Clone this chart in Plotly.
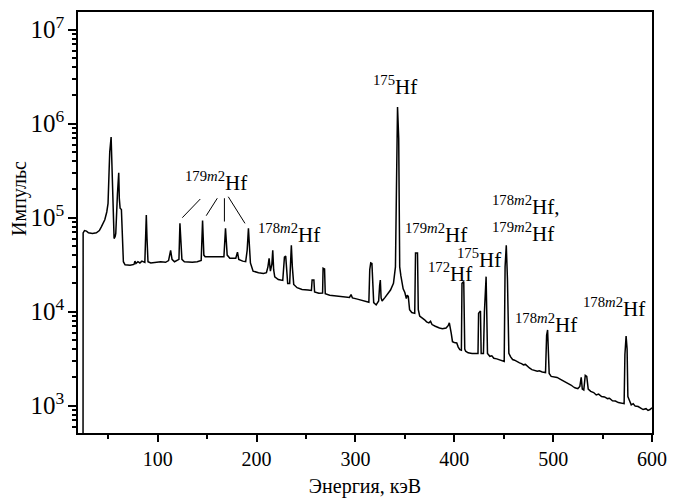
import plotly.graph_objects as go

# ---- spectrum data (energy keV, counts) ----
energy = [24.5, 24.6, 26, 28, 30, 34, 38, 41, 43, 46.5, 48.5, 49.8, 51, 51.5, 52.9, 53.5, 54.2, 55.2, 55.9, 57,
          57.6, 59.3, 60.6, 61.2, 62, 63.3, 64.3, 65.3, 67, 72, 76, 77, 78, 80, 82, 84, 87, 88.0, 88.5, 89.2,
          90.2, 93, 98, 103, 108, 111, 113.1, 114.5, 117, 121.5, 122.5, 123.5, 124.5, 127, 135, 140, 144, 145.4, 146.2, 146.7,
          148, 167, 168.6, 169.5, 170.3, 173, 179, 180.7, 182, 186, 189, 190.5, 191.8, 192.8, 193.8, 196.5, 199, 202, 207, 210,
          211.5, 212.7, 214, 215.5, 216.4, 217.3, 218.4, 222, 226.5, 227.5, 228.2, 229.5, 230.5, 231.5, 233.5, 234.5, 235.2, 236.2, 237.6, 241,
          246, 252, 255.5, 256.2, 258, 258.7, 263, 266.8, 267.3, 268.8, 269.5, 274, 280, 285, 290, 294, 295.6, 297, 302, 307,
          312, 313.6, 314.5, 315.5, 316.7, 317.5, 318.5, 321, 323.5, 324.5, 325.2, 326, 327, 330, 333, 335.5, 338.5, 340.5, 341.5, 342.6,
          343.8, 344.8, 346, 348.3, 350, 351.5, 352.5, 353.5, 354.8, 357, 360, 360.8, 362.8, 363.6, 365, 367.8, 370, 372, 374.3, 376,
          377.5, 380.8, 383, 385, 388, 391.7, 393.8, 395, 396.9, 398.2, 400, 402.5, 404, 405.6, 407.2, 407.8, 409.6, 410.6, 411.5, 414,
          418, 421, 424, 424.6, 426.5, 427.2, 429.5, 430.5, 432.2, 433.6, 436, 438, 440, 443, 446, 448, 450.5, 451.4, 452.6, 453.8,
          455.2, 457, 459, 461, 463, 466, 468, 470, 472, 474, 476, 478.5, 481, 484, 486, 489, 492.3, 493.4, 494.4, 495.2,
          496, 498, 501, 504, 507, 510, 513, 516, 518, 520, 522, 525, 527.0, 528.4, 529.5, 531, 532.5, 534, 535.5, 538,
          541, 543.6, 546, 549, 552, 555, 557, 560, 563, 566, 569.6, 571.8, 572.6, 573.8, 574.8, 575.6, 577, 579, 581, 583,
          586, 589, 591, 594, 596, 598, 600]
counts = [300, 6.9e4, 7.3e4, 7.2e4, 6.9e4, 6.8e4, 6.9e4, 7.3e4, 8.0e4, 9.5e4, 1.15e5, 1.42e5, 3.5e5, 5.0e5, 7.2e5, 4.0e5, 2.1e5, 8.0e4, 6.0e4, 6.3e4,
          6.8e4, 1.8e5, 3.0e5, 1.6e5, 1.26e5, 1.22e5, 4.9e4, 3.4e4, 3.15e4, 3.12e4, 3.18e4, 3.45e4, 3.25e4, 3.4e4, 3.3e4, 3.45e4, 3.35e4, 6.0e4, 1.07e5, 6.0e4,
          3.4e4, 3.3e4, 3.35e4, 3.4e4, 3.35e4, 3.5e4, 4.5e4, 3.6e4, 3.4e4, 3.6e4, 8.7e4, 4.5e4, 3.6e4, 3.4e4, 3.35e4, 3.4e4, 3.5e4, 9.3e4, 6.0e4, 4.0e4,
          3.85e4, 3.85e4, 7.7e4, 6.0e4, 4.0e4, 3.7e4, 3.7e4, 4.3e4, 3.6e4, 3.45e4, 3.4e4, 4.5e4, 7.7e4, 5.0e4, 3.3e4, 2.7e4, 2.65e4, 2.6e4, 2.55e4, 2.6e4,
          3.0e4, 3.7e4, 2.7e4, 3.2e4, 4.5e4, 2.8e4, 2.35e4, 2.2e4, 2.15e4, 3.2e4, 3.8e4, 3.9e4, 2.4e4, 2.0e4, 2.0e4, 3.5e4, 5.1e4, 3.0e4, 1.95e4, 1.8e4,
          1.72e4, 1.7e4, 1.68e4, 2.17e4, 2.17e4, 1.62e4, 1.57e4, 1.58e4, 2.9e4, 2.85e4, 1.55e4, 1.5e4, 1.48e4, 1.46e4, 1.44e4, 1.42e4, 1.52e4, 1.4e4, 1.36e4, 1.32e4,
          1.28e4, 1.26e4, 2.8e4, 3.3e4, 3.25e4, 1.6e4, 1.25e4, 1.18e4, 1.3e4, 1.9e4, 2.17e4, 1.4e4, 1.3e4, 1.42e4, 1.55e4, 1.7e4, 2.0e4, 3.0e4, 2.0e5, 1.5e6,
          7.0e5, 3.0e4, 2.4e4, 1.75e4, 1.6e4, 1.38e4, 1.5e4, 1.45e4, 1.05e4, 9.8e3, 9.6e3, 4.2e4, 4.2e4, 1.05e4, 9.0e3, 8.6e3, 8.2e3, 7.8e3, 7.6e3, 7.9e3,
          7.3e3, 7.0e3, 6.8e3, 6.7e3, 6.6e3, 6.7e3, 7.1e3, 7.6e3, 5.9e3, 4.8e3, 4.7e3, 4.65e3, 4.2e3, 3.95e3, 3.9e3, 2.0e4, 2.1e4, 4.0e3, 3.8e3, 3.65e3,
          3.6e3, 3.58e3, 3.6e3, 9.6e3, 1.02e4, 3.6e3, 3.6e3, 1.0e4, 2.36e4, 3.6e3, 3.35e3, 3.4e3, 3.2e3, 3.15e3, 3.05e3, 3.0e3, 2.95e3, 3.0e4, 5.1e4, 2.2e4,
          3.6e3, 3.3e3, 3.1e3, 3.05e3, 2.95e3, 2.85e3, 2.8e3, 2.72e3, 2.75e3, 2.6e3, 2.52e3, 2.42e3, 2.38e3, 2.32e3, 2.35e3, 2.28e3, 2.25e3, 5.6e3, 6.4e3, 2.4e3,
          2.2e3, 2.05e3, 2.02e3, 2.0e3, 1.92e3, 1.85e3, 1.76e3, 1.72e3, 1.66e3, 1.6e3, 1.55e3, 1.52e3, 1.6e3, 2.0e3, 1.5e3, 1.47e3, 2.1e3, 2.05e3, 1.5e3, 1.42e3,
          1.38e3, 1.3e3, 1.33e3, 1.25e3, 1.24e3, 1.19e3, 1.2e3, 1.13e3, 1.12e3, 1.08e3, 1.05e3, 1.05e3, 3.5e3, 5.5e3, 4.0e3, 1.25e3, 1.15e3, 1.02e3, 1.05e3, 9.9e2,
          9.8e2, 9.3e2, 9.1e2, 9.3e2, 8.9e2, 9.1e2, 9.5e2]

# ---- peak labels: (energy, log10 counts, text) ----
label_x = [340.4, 158.9, 232.7, 381.8, 395.2, 424.8, 492.5, 562.0]
label_logy = [6.406, 5.39, 4.837, 4.837, 4.417, 4.571, 3.874, 4.045]
label_text = ["<sup>175</sup>Hf", "<sup>179<i>m</i>2</sup>Hf", "<sup>178<i>m</i>2</sup>Hf",
              "<sup>179<i>m</i>2</sup>Hf", "<sup>172</sup>Hf", "<sup>175</sup>Hf",
              "<sup>178<i>m</i>2</sup>Hf", "<sup>178<i>m</i>2</sup>Hf"]
double_label_x = 435.9
double_label_logy = 4.986
double_label_text = "<sup>178<i>m</i>2</sup>Hf,<br><sup>179<i>m</i>2</sup>Hf"

# pointer lines for the 179m2Hf group: (x0, y0, x1, y1) in data units
pointer_x0 = [143.1, 160.3, 167.5, 171.4]
pointer_y0 = [1.58e5, 1.61e5, 1.61e5, 1.67e5]
pointer_x1 = [124.9, 149.1, 167.5, 188.3]
pointer_y1 = [1.0e5, 1.05e5, 9.1e4, 8.7e4]

x_title = "Энергия, кэВ"
y_title = "Импульс"

FONT = "Liberation Serif, Times New Roman, serif"

fig = go.Figure()
fig.add_trace(go.Scatter(x=energy, y=counts, mode="lines",
                         line=dict(color="black", width=1.5), showlegend=False,
                         hoverinfo="skip"))

for x, ly, t in zip(label_x, label_logy, label_text):
    fig.add_annotation(x=x, y=ly, xref="x", yref="y", text=t, showarrow=False,
                       xanchor="center", yanchor="middle",
                       font=dict(family=FONT, size=21, color="black"))
fig.add_annotation(x=double_label_x, y=double_label_logy, xref="x", yref="y",
                   text=double_label_text, showarrow=False, align="left",
                   xanchor="left", yanchor="middle",
                   font=dict(family=FONT, size=21, color="black"))

# y-axis title placed as a rotated annotation
fig.add_annotation(x=-0.101, y=0.556, xref="paper", yref="paper", text=y_title,
                   textangle=-90, showarrow=False, xanchor="center", yanchor="middle",
                   font=dict(family=FONT, size=20, color="black"))

for x0, y0, x1, y1 in zip(pointer_x0, pointer_y0, pointer_x1, pointer_y1):
    fig.add_shape(type="line", xref="x", yref="y", x0=x0, y0=y0, x1=x1, y1=y1,
                  line=dict(color="black", width=1))

fig.update_layout(
    width=673, height=500,
    margin=dict(l=78, r=21, t=12, b=67),
    paper_bgcolor="white", plot_bgcolor="white",
    font=dict(family=FONT, size=20, color="black"),
    showlegend=False,
    xaxis=dict(range=[19.4, 600], tick0=0, dtick=100, ticks="outside", ticklen=7,
               tickwidth=1.5, tickcolor="black", showline=True, linecolor="black",
               linewidth=1.5, mirror=True, showgrid=False, zeroline=False,
               automargin=False,
               tickfont=dict(family=FONT, size=20),
               minor=dict(ticks="outside", ticklen=4, tickwidth=1.5, tickcolor="black",
                          dtick=50, tick0=0, showgrid=False),
               title=dict(text=x_title, font=dict(family=FONT, size=20), standoff=10)),
    yaxis=dict(type="log", range=[2.7096, 7.188], dtick=1, exponentformat="power",
               ticks="outside", ticklen=8, tickwidth=1.5, tickcolor="black",
               showline=True, linecolor="black", linewidth=1.5, mirror=True,
               showgrid=False, zeroline=False, automargin=False,
               tickfont=dict(family=FONT, size=20),
               minor=dict(ticks="outside", ticklen=4, tickwidth=1.5, tickcolor="black",
                          dtick="D1", showgrid=False)),
)

fig.write_html("out.html", config={"displayModeBar": False},
               post_script="document.body.style.margin='0';document.body.style.overflow='hidden';")
